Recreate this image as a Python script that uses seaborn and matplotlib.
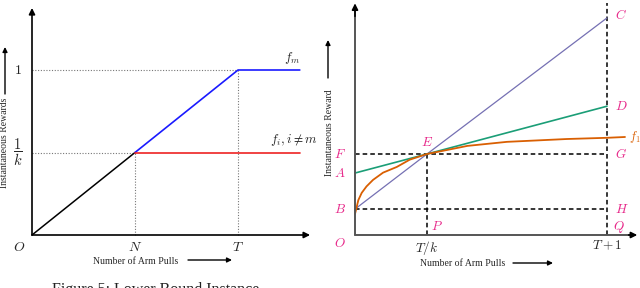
import numpy as np
import pandas as pd
import seaborn as sns
import matplotlib.pyplot as plt
from matplotlib.patches import FancyArrowPatch

# ---- left panel: lower bound instance (x in units of N, y with 1 -> 1.0)
black_x = [0, 1]
black_y = [0, 0.5]
fm_x = [1, 2, 2.6]
fm_y = [0.5, 1, 1]
fi_x = [1, 2.6]
fi_y = [0.5, 0.5]
left_ticks_x = {"$O$": 0, "$N$": 1, "$T$": 2}
left_ticks_y = {"$1$": 1, r"$\dfrac{1}{k}$": 0.5}

# ---- right panel (x in units of T/k, y in units of the E level)
purple_x = [0, 1, 3.5]
purple_y = [0.32, 1, 2.68]
green_x = [0, 1, 3.5]
green_y = [0.765, 1, 1.59]
f1_x = [0, 0.014, 0.046, 0.093, 0.16, 0.25, 0.39, 0.58, 0.76, 1.0,
        1.28, 1.56, 2.11, 2.94, 3.5, 3.75]
f1_y = [0.26, 0.31, 0.43, 0.52, 0.60, 0.68, 0.77, 0.84, 0.93, 1.0,
        1.05, 1.10, 1.15, 1.185, 1.20, 1.21]
level_E = 1.0
level_B = 0.32
x_P = 1.0
x_Q = 3.5

sns.set_theme(style="white")
plt.rcParams['font.family'] = ['Liberation Serif', 'DejaVu Serif']
plt.rcParams['mathtext.fontset'] = 'cm'

pal = sns.color_palette("Dark2")
green, orange, purple, magenta = pal[0], pal[1], pal[2], pal[3]

W, H = 640, 288
fig = plt.figure(figsize=(W / 100, H / 100), dpi=100)
axl = fig.add_axes([0, 0, 0.5, 1])
axr = fig.add_axes([0.5, 0, 0.5, 1])
for ax in (axl, axr):
    ax.set_axis_off()


def frac(x, y):
    # figure fraction from pixel position measured from the top-left corner
    return x / W, 1 - y / H


def fpx(x, y):
    return (x, H - y)


ak = dict(arrowstyle="-|>", lw=1.2, color="black", mutation_scale=9,
          shrinkA=0, shrinkB=0)
ak_f = dict(arrowstyle="-|>", lw=1.0, color="black", mutation_scale=7,
            shrinkA=0, shrinkB=0)

# ================= left panel =================
axl.set_xlim(-32 / 103, 288 / 103)
axl.set_ylim(-53 / 165, 235 / 165)

dot = dict(color="#777777", lw=0.8, ls=(0, (1, 1.5)))
axl.plot([0, 2], [1, 1], **dot)
axl.plot([0, 1], [0.5, 0.5], **dot)
axl.plot([1, 1], [0, 0.5], **dot)
axl.plot([2, 2], [0, 1], **dot)

sns.lineplot(x=black_x, y=black_y, ax=axl, color="black", lw=1.1)
sns.lineplot(x=fm_x, y=fm_y, ax=axl, color="#1a1aff", lw=1.2)
sns.lineplot(x=fi_x, y=fi_y, ax=axl, color="#ee2222", lw=1.2)

axl.annotate("", xy=(2.70, 0), xytext=(0, 0), arrowprops=ak)
axl.annotate("", xy=(0, 1.376), xytext=(0, 0), arrowprops=ak)

for lab, xv in left_ticks_x.items():
    off = -9 if xv == 0 else 0
    axl.annotate(lab, (xv, 0), xytext=(off, -4), textcoords="offset points",
                 ha="center", va="top", fontsize=10)
for lab, yv in left_ticks_y.items():
    axl.annotate(lab, (0, yv), xytext=(-7, 0), textcoords="offset points",
                 ha="right", va="center", fontsize=10 if yv == 1 else 10.5)

axl.annotate("$f_m$", (2.6, 1), xytext=(0, 3), textcoords="offset points",
             ha="right", va="bottom", fontsize=9.5)
axl.annotate(r"$f_i, i \neq m$", (2.6, 0.5), xytext=(13, 3),
             textcoords="offset points", ha="right", va="bottom", fontsize=9.5)

fig.text(*frac(136, 261), "Number of Arm Pulls", ha="center", va="center",
         fontsize=7)
fig.text(*frac(5, 143), "Instantaneous Rewards", rotation=90, ha="center",
         va="center", fontsize=7)
fig.text(*frac(156, 282), "Figure 5: Lower Bound Instance", ha="center",
         va="top", fontsize=11.5, color="#222222")
fig.add_artist(FancyArrowPatch(fpx(188, 260), fpx(232, 260),
                               transform=None, **ak_f))
fig.add_artist(FancyArrowPatch(fpx(5, 94), fpx(5, 47),
                               transform=None, **ak_f))

# ================= right panel =================
axr.set_xlim(-35 / 72, 285 / 72)
axr.set_ylim(-53 / 81, 235 / 81)

dash = dict(color="black", lw=1.1, ls=(0, (3, 2)))
axr.plot([0, x_Q], [level_E, level_E], **dash)
axr.plot([0, x_Q], [level_B, level_B], **dash)
axr.plot([x_P, x_P], [0, level_E], **dash)
axr.plot([x_Q, x_Q], [0, 2.86], **dash)

sns.lineplot(x=purple_x, y=purple_y, ax=axr, color=purple, lw=0.9)
sns.lineplot(x=green_x, y=green_y, ax=axr, color=green, lw=1.2)
sns.lineplot(x=f1_x, y=f1_y, ax=axr, color=orange, lw=1.3)

axr.plot([0, 3.86], [0, 0], color="#555555", lw=1.4)
axr.plot([0, 0], [0, 2.80], color="#555555", lw=1.4)
axr.annotate("", xy=(3.92, 0), xytext=(3.8, 0), arrowprops=ak)
axr.annotate("", xy=(0, 2.86), xytext=(0, 2.7), arrowprops=ak)

pts = {
    "O": ((0, 0), (-15, -6)),
    "F": ((0, level_E), (-15, 0)),
    "A": ((0, green_y[0]), (-15, 0)),
    "B": ((0, level_B), (-15, 0)),
    "E": ((x_P, level_E), (-4, 8)),
    "P": ((x_P, 0), (3, 6)),
    "C": ((x_Q, purple_y[-1]), (6, 2)),
    "D": ((x_Q, green_y[-1]), (6, 0)),
    "G": ((x_Q, level_E), (6, 0)),
    "H": ((x_Q, level_B), (6, 0)),
    "Q": ((x_Q, 0), (4, 6)),
}
for lab, (xy, off) in pts.items():
    axr.annotate(f"${lab}$", xy, xytext=off, textcoords="offset points",
                 ha="left", va="center", fontsize=9.5, color=magenta)
axr.annotate("$f_1$", (f1_x[-1], f1_y[-1]), xytext=(3, 0),
             textcoords="offset points", ha="left", va="center",
             fontsize=9, color=orange)
axr.annotate("$T/k$", (x_P, 0), xytext=(0, -3), textcoords="offset points",
             ha="center", va="top", fontsize=9.5)
axr.annotate("$T+1$", (x_Q, 0), xytext=(0, -3), textcoords="offset points",
             ha="center", va="top", fontsize=9.5)

fig.text(*frac(463, 264), "Number of Arm Pulls", ha="center", va="center",
         fontsize=7)
fig.text(*frac(329, 133), "Instantaneous Reward", rotation=90, ha="center",
         va="center", fontsize=7)
fig.add_artist(FancyArrowPatch(fpx(513, 263), fpx(553, 263),
                               transform=None, **ak_f))
fig.add_artist(FancyArrowPatch(fpx(328, 78), fpx(328, 40),
                               transform=None, **ak_f))

fig.savefig("out.png", dpi=100)
